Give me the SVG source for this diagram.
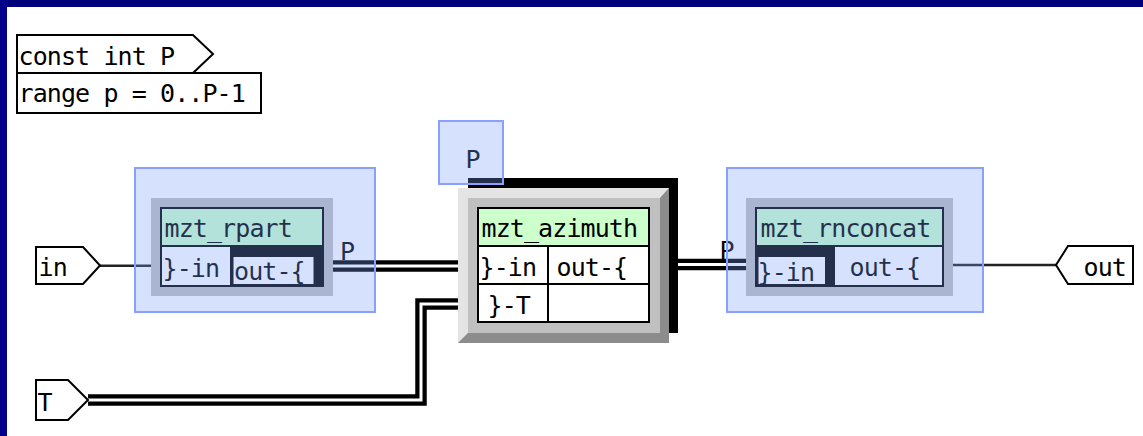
<svg xmlns="http://www.w3.org/2000/svg" width="1143" height="436" viewBox="0 0 1143 436">
<style>
text{font-family:"DejaVu Sans Mono","Liberation Mono",monospace;font-size:25px;letter-spacing:-0.9px;fill:#000}
.box{fill:#fff;stroke:#000;stroke-width:2}
.title{fill:#ccffcc;stroke:#000;stroke-width:2}
.gray{fill:#c0c0c0}
.ov{fill:rgb(120,160,250);fill-opacity:0.3;stroke:#8aa0ff;stroke-width:2}
.busO{fill:none;stroke:#000;stroke-width:11.5;stroke-linejoin:miter}
.busI{fill:none;stroke:#fff;stroke-width:3;stroke-linejoin:miter}
.wire{fill:none;stroke:#222;stroke-width:2.5}
.port{fill:#fff;stroke:#000;stroke-width:2}
</style>
<rect x="0" y="0" width="1143" height="436" fill="#fff"/>
<g id="frame">
<rect x="0" y="0" width="1143" height="7" fill="#00007a"/>
<rect x="0" y="0" width="7" height="436" fill="#00008a"/>
</g>
<g id="connectors">
<line class="wire" x1="100" y1="265.8" x2="151" y2="265.8"/>
<line class="wire" x1="953" y1="265" x2="1056" y2="265"/>
<path class="busO" d="M333 266 H458"/><path class="busI" d="M333 266 H458"/>
<path class="busO" d="M669 264.5 H746"/><path class="busI" d="M669 264.5 H746"/>
<path class="busO" d="M88 400 H421 V304 H458"/><path class="busI" d="M88 400 H421 V304 H458"/>
<text x="340" y="259.5">P</text>
<text x="719.5" y="258.5">P</text>
</g>
<g id="mzt_rpart">
<rect class="gray" x="151" y="198" width="182" height="98"/>
<rect class="box" x="161" y="208" width="162" height="78"/>
<rect class="title" x="161" y="208" width="162" height="38"/>
<rect class="box" x="161" y="246" width="70" height="40"/>
<rect x="231" y="246" width="92" height="40" fill="#000"/>
<rect x="233.5" y="257" width="80" height="27" fill="#fff"/>
<text x="164.5" y="237">mzt_rpart</text>
<text x="162.5" y="276.5">}-in</text>
<text x="234" y="280">out-{</text>
<rect class="ov" x="135" y="168" width="240" height="144"/>
</g>
<g id="mzt_azimuth">
<rect x="468" y="178" width="210" height="155" fill="#000"/>
<rect x="458" y="188" width="211" height="155" fill="#c0c0c0"/>
<polygon points="458,188 669,188 660,198 468,198 468,333 458,343" fill="#e4e4e4"/>
<polygon points="669,188 669,343 458,343 468,333 660,333 660,198" fill="#8c8c8c"/>
<rect class="gray" x="468" y="198" width="192" height="135"/>
<rect class="box" x="478" y="208" width="171" height="114"/>
<rect class="title" x="478" y="208" width="171" height="38"/>
<line x1="478" y1="284" x2="649" y2="284" stroke="#000" stroke-width="2"/>
<line x1="548" y1="246" x2="548" y2="322" stroke="#000" stroke-width="2"/>
<text x="481.5" y="237">mzt_azimuth</text>
<text x="479.5" y="276">}-in</text>
<text x="556.5" y="276">out-{</text>
<text x="487.5" y="314">}-T</text>
</g>
<g id="param_P">
<text x="465.5" y="168">P</text>
<rect class="ov" x="439" y="121" width="64" height="63"/>
</g>
<g id="mzt_rnconcat">
<rect class="gray" x="746" y="198" width="207" height="98"/>
<rect class="box" x="756" y="208" width="187" height="78"/>
<rect class="title" x="756" y="208" width="187" height="38"/>
<rect x="756" y="246" width="78" height="40" fill="#000"/>
<rect x="758.5" y="257" width="66.5" height="27" fill="#fff"/>
<rect class="box" x="834" y="246" width="109" height="40"/>
<text x="760.5" y="237">mzt_rnconcat</text>
<text x="757.5" y="281">}-in</text>
<text x="849.5" y="276">out-{</text>
<rect class="ov" x="727" y="168" width="256" height="144"/>
</g>
<g id="port_in">
<polygon class="port" points="36,247 83,247 100,265.5 83,284 36,284"/>
<text x="38.5" y="276">in</text>
</g>
<g id="port_T">
<polygon class="port" points="36,380 68,380 88,400 68,420 36,420"/>
<text x="37.5" y="411">T</text>
</g>
<g id="port_out">
<polygon class="port" points="1133,246 1068,246 1056,265 1068,284 1133,284"/>
<text x="1083.5" y="276">out</text>
</g>
<g id="legend">
<polygon class="port" points="17,35 193,35 213,54 193,73 17,73"/>
<rect class="port" x="17" y="73" width="244" height="40"/>
<text x="18.5" y="65">const int P</text>
<text x="18.5" y="102">range p = 0..P-1</text>
</g>
</svg>
